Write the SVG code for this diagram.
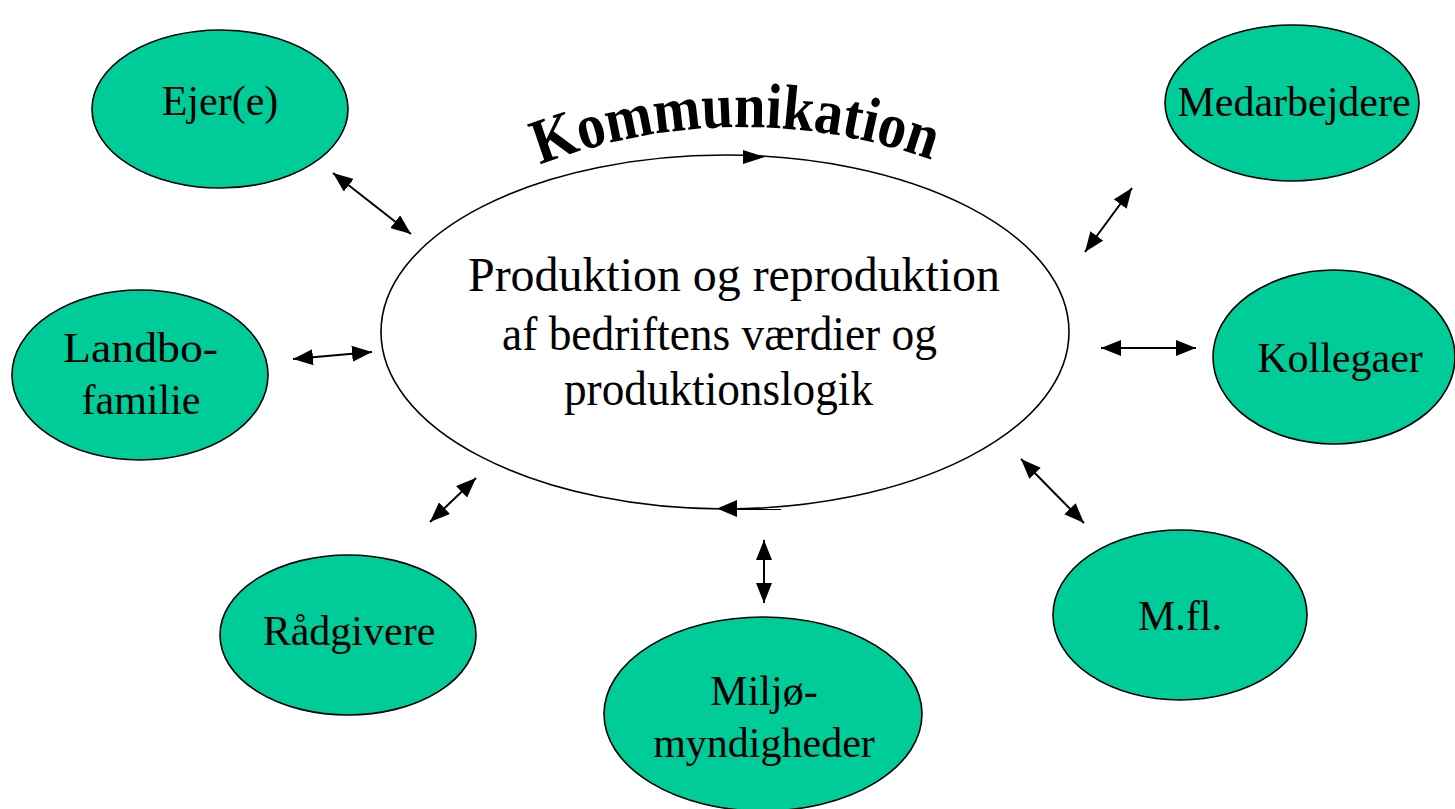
<svg xmlns="http://www.w3.org/2000/svg" width="1455" height="809" viewBox="0 0 1455 809">
<style>
.node{fill:#00CC99;stroke:#000;stroke-width:1.6}
.lbl{font-family:"Liberation Serif","Times New Roman",serif;font-size:42px;fill:#000;text-anchor:middle}
.ctr{font-family:"Liberation Serif","Times New Roman",serif;font-size:48px;fill:#000;text-anchor:middle}
.conn{stroke:#000;stroke-width:2;fill:none;marker-start:url(#ah);marker-end:url(#ah)}
</style>
<defs>
<marker id="ah" viewBox="0 0 20 16" refX="20" refY="8" markerWidth="20" markerHeight="16" markerUnits="userSpaceOnUse" orient="auto-start-reverse">
<path d="M0,0 L20,8 L0,16 z" fill="#000"/>
</marker>
<path id="arc" d="M 540 165 A 560 560 0 0 1 945 165"/>
</defs>
<rect width="1455" height="809" fill="#fff"/>

<g id="center">
<ellipse cx="725" cy="332" rx="344" ry="177" fill="#fff" stroke="#000" stroke-width="1.6"/>
<path d="M743,150 L765,157 L743,164 z" fill="#000"/>
<path d="M737,500 L717,508.5 L737,517 z" fill="#000"/>
<line x1="735" y1="509.5" x2="781" y2="509.5" stroke="#000" stroke-width="1.2"/>
<text class="ctr" x="734" y="291" textLength="532" lengthAdjust="spacingAndGlyphs">Produktion og reproduktion</text>
<text class="ctr" x="719.5" y="350" textLength="435" lengthAdjust="spacingAndGlyphs">af bedriftens værdier og</text>
<text class="ctr" x="718.5" y="405" textLength="309" lengthAdjust="spacingAndGlyphs">produktionslogik</text>
</g>

<g id="title">
<text font-family="Liberation Serif, 'Times New Roman', serif" font-weight="bold" font-size="64" fill="#000"><textPath href="#arc" textLength="400" lengthAdjust="spacingAndGlyphs">Kommunikation</textPath></text>
</g>

<g id="n-ejer"><ellipse class="node" cx="220" cy="109" rx="128" ry="79"/><text class="lbl" x="220" y="115">Ejer(e)</text></g>
<g id="n-medarbejdere"><ellipse class="node" cx="1292" cy="103" rx="127" ry="78"/><text class="lbl" x="1294" y="116">Medarbejdere</text></g>
<g id="n-landbo"><ellipse class="node" cx="140" cy="375" rx="128" ry="85"/><text class="lbl" x="140.5" y="362" textLength="155" lengthAdjust="spacingAndGlyphs">Landbo-</text><text class="lbl" x="141" y="414">familie</text></g>
<g id="n-kollegaer"><ellipse class="node" cx="1334" cy="357" rx="121" ry="87"/><text class="lbl" x="1340" y="372">Kollegaer</text></g>
<g id="n-raadgivere"><ellipse class="node" cx="348" cy="635" rx="128" ry="80"/><text class="lbl" x="349" y="645">Rådgivere</text></g>
<g id="n-miljo"><ellipse class="node" cx="763" cy="714" rx="159" ry="97"/><text class="lbl" x="764" y="705">Miljø-</text><text class="lbl" x="764" y="757">myndigheder</text></g>
<g id="n-mfl"><ellipse class="node" cx="1180" cy="615" rx="127" ry="85"/><text class="lbl" x="1180" y="630">M.fl.</text></g>

<g id="connectors">
<line class="conn" x1="333" y1="173" x2="411" y2="234"/>
<line class="conn" x1="1132" y1="188" x2="1085" y2="252"/>
<line class="conn" x1="293" y1="359" x2="372" y2="352"/>
<line class="conn" x1="1101" y1="348" x2="1196" y2="348"/>
<line class="conn" x1="476" y1="478" x2="430" y2="522"/>
<line class="conn" x1="764" y1="540" x2="764" y2="603"/>
<line class="conn" x1="1021" y1="459" x2="1084" y2="523"/>
</g>
</svg>
